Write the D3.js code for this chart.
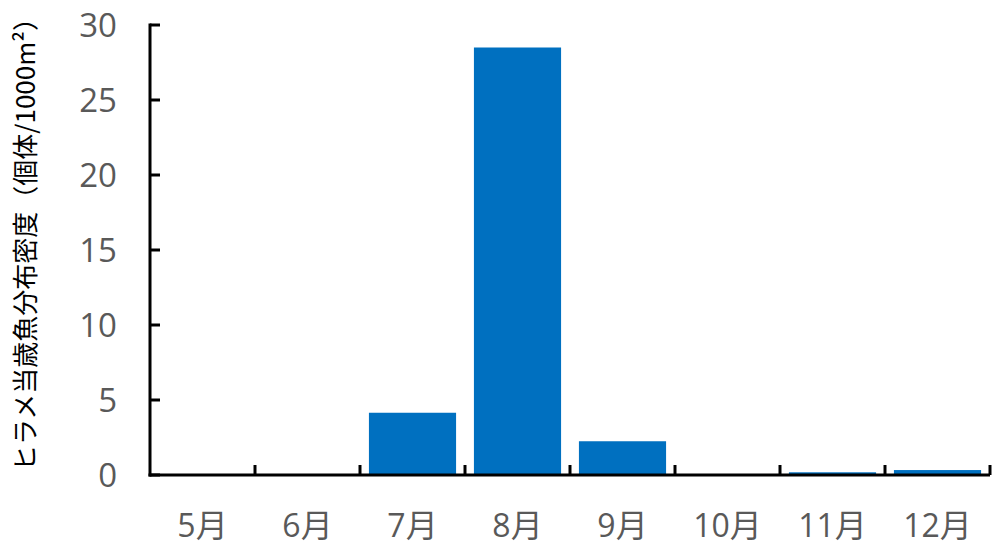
<!DOCTYPE html>
<html>
<head>
<meta charset="utf-8">
<script src="https://cdn.jsdelivr.net/npm/d3@7"></script>
<style>
  html, body { margin: 0; padding: 0; background: #fff; }
  svg { display: block; }
</style>
</head>
<body>
<svg id="chart" width="993" height="547"></svg>
<script>
// Monthly density of age-0 flounder (individuals per 1000 m²)
const months = ["5月", "6月", "7月", "8月", "9月", "10月", "11月", "12月"];
const density = [0, 0, 4.15, 28.5, 2.25, 0, 0.18, 0.33];
const yTicks = [0, 5, 10, 15, 20, 25, 30];
const yTitle = "ヒラメ当歳魚分布密度（個体/1000m²）";

const svg = d3.select("#chart");
const plotLeft = 150, plotRight = 990, plotTop = 25, plotBottom = 475;

const x = d3.scaleBand().domain(months).range([plotLeft, plotRight]).paddingInner(0.17).paddingOuter(0.085);
const xb = d3.scaleBand().domain(months).range([plotLeft, plotRight]);
const y = d3.scaleLinear().domain([0, 30]).range([plotBottom, plotTop]);

const labelFont = "'Open Sans', 'Noto Sans CJK JP', sans-serif";

// bars
svg.append("g").selectAll("rect").data(months).join("rect")
  .attr("x", d => x(d))
  .attr("width", x.bandwidth())
  .attr("y", (d, i) => y(density[i]))
  .attr("height", (d, i) => plotBottom - y(density[i]))
  .attr("fill", "#0070C0");

// y axis: line with inward ticks
const gy = svg.append("g");
gy.append("line").attr("x1", plotLeft).attr("x2", plotLeft).attr("y1", plotTop - 1.5).attr("y2", plotBottom + 1.5)
  .attr("stroke", "#000").attr("stroke-width", 3);
gy.selectAll("line.tick").data(yTicks).join("line").attr("class", "tick")
  .attr("x1", plotLeft).attr("x2", plotLeft + 10)
  .attr("y1", d => y(d)).attr("y2", d => y(d))
  .attr("stroke", "#000").attr("stroke-width", 3);
gy.selectAll("text").data(yTicks).join("text")
  .attr("x", 117).attr("y", d => y(d)).attr("dy", "0.36em")
  .attr("text-anchor", "end")
  .attr("font-family", labelFont).attr("font-size", 33).attr("fill", "#595959")
  .text(d => d);

// x axis: baseline with upward ticks at category boundaries
const gx = svg.append("g");
gx.append("line").attr("x1", plotLeft - 1.5).attr("x2", plotRight).attr("y1", plotBottom).attr("y2", plotBottom)
  .attr("stroke", "#000").attr("stroke-width", 3);
const bounds = months.slice(1).map(m => xb(m)).concat([plotRight]);
gx.selectAll("line.tick").data(bounds).join("line").attr("class", "tick")
  .attr("x1", d => d).attr("x2", d => d)
  .attr("y1", plotBottom).attr("y2", plotBottom - 10)
  .attr("stroke", "#000").attr("stroke-width", 3);
gx.selectAll("text").data(months).join("text")
  .attr("x", d => xb(d) + xb.bandwidth() / 2).attr("y", 525).attr("dy", "0.36em")
  .attr("text-anchor", "middle")
  .attr("font-family", labelFont).attr("font-size", 32).attr("fill", "#595959")
  .text(d => d);

// y axis title
svg.append("text")
  .attr("transform", `translate(35, 238) rotate(-90)`)
  .attr("text-anchor", "middle")
  .attr("font-family", "'Noto Sans CJK JP', sans-serif").attr("font-size", 26).attr("fill", "#000")
  .text(yTitle);
</script>
</body>
</html>
